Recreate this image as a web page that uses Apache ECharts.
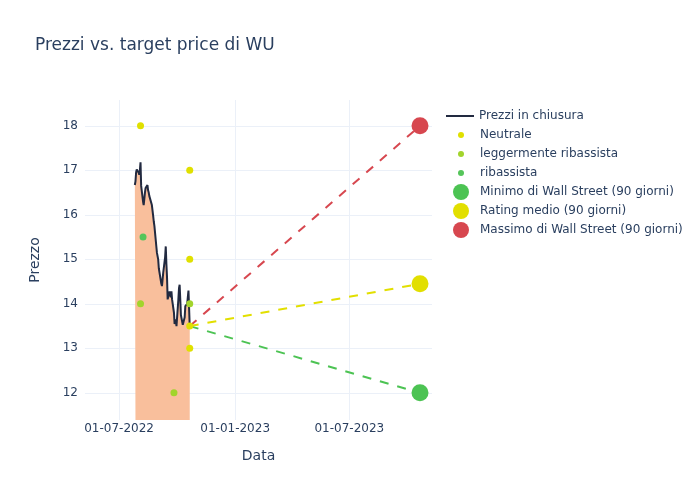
<!DOCTYPE html>
<html><head><meta charset="utf-8">
<script src="https://cdn.jsdelivr.net/npm/echarts@6/dist/echarts.min.js"></script>
<style>html,body{margin:0;padding:0;background:#fff}#c{width:700px;height:500px}</style>
</head><body><div id="c"></div>
<script>
const priceDates = [
'2022-07-26','2022-07-27','2022-07-28','2022-07-29',
'2022-08-01','2022-08-02','2022-08-03','2022-08-04','2022-08-05',
'2022-08-08','2022-08-09','2022-08-10','2022-08-11','2022-08-12',
'2022-08-15','2022-08-16','2022-08-17','2022-08-18','2022-08-19',
'2022-08-22','2022-08-23','2022-08-24','2022-08-25','2022-08-26',
'2022-08-29','2022-08-30','2022-08-31','2022-09-01','2022-09-02',
'2022-09-06','2022-09-07','2022-09-08','2022-09-09',
'2022-09-12','2022-09-13','2022-09-14','2022-09-15','2022-09-16',
'2022-09-19','2022-09-20','2022-09-21','2022-09-22','2022-09-23',
'2022-09-26','2022-09-27','2022-09-28','2022-09-29','2022-09-30',
'2022-10-03','2022-10-04','2022-10-05','2022-10-06','2022-10-07',
'2022-10-10','2022-10-11','2022-10-12','2022-10-13','2022-10-14',
'2022-10-17','2022-10-18','2022-10-19','2022-10-20','2022-10-21'];
const priceValues = [
16.67,16.75,16.95,17.02,
16.95,16.9,17.0,17.18,16.65,
16.3,16.22,16.35,16.5,16.6,
16.67,16.55,16.5,16.42,16.45,
16.22,16.1,15.98,15.85,15.75,
15.3,15.15,15.12,15.0,14.8,
14.45,14.4,14.55,14.7,
15.05,15.29,14.9,14.6,14.1,
14.28,14.3,14.15,14.28,14.1,
13.8,13.55,13.6,13.65,13.5,
14.1,14.35,14.43,14.1,13.75,
13.53,13.55,13.52,13.7,13.95,
14.0,14.15,14.3,14.28,13.5];

const neutraleDates = ['2022-08-04','2022-10-21','2022-10-21','2022-10-21','2022-10-21'];
const neutraleValues = [18, 17, 15, 13.5, 13];
const leggermenteDates = ['2022-08-04','2022-09-26','2022-10-21'];
const leggermenteValues = [14, 12, 14];
const ribassistaDates = ['2022-08-08'];
const ribassistaValues = [15.5];

const targetDate = '2023-10-21';
const targetMin = 12;
const targetMedio = 14.45;
const targetMax = 18;

const xTickLabels = ['01-07-2022','01-01-2023','01-07-2023'];
const yTickLabels = [12,13,14,15,16,17,18];

const FONT = 'DejaVu Sans';
const TXT = '#2a3f5f';
const GRID = '#ebf0f8';
const zip = (a, b) => a.map((d, i) => [d, b[i]]);
const lastDate = priceDates[priceDates.length - 1];
const lastPrice = priceValues[priceValues.length - 1];
const DAY = 86400000;

function fmt(v) {
  const d = new Date(v);
  const p = n => String(n).padStart(2, '0');
  return p(d.getDate()) + '-' + p(d.getMonth() + 1) + '-' + d.getFullYear();
}

const chart = echarts.init(document.getElementById('c'), null, {renderer: 'canvas'});
const C = {
  line: '#222a40', fill: '#f9bf9c',
  neutrale: '#e0e000', legg: '#a2d42c', rib: '#55c55a',
  bigG: '#4cc353', bigY: '#e2df00', bigR: '#d7474f'
};
const legendBase = {
  orient: 'vertical', padding: 0,
  itemWidth: 28, symbolKeepAspect: true,
  textStyle: {fontFamily: FONT, fontSize: 12, color: TXT}
};
chart.setOption({
  animation: false,
  backgroundColor: '#fff',
  title: {text: 'Prezzi vs. target price di WU', left: 30, top: 32,
    textStyle: {fontFamily: FONT, fontSize: 17, fontWeight: 'normal', color: TXT}},
  legend: [
    Object.assign({}, legendBase, {left: 446, top: 110, itemHeight: 2, itemGap: 5,
      data: [{name: 'Prezzi in chiusura', icon: 'rect'}]}),
    Object.assign({}, legendBase, {left: 458, top: 129, itemHeight: 6, itemGap: 7,
      data: [{name: 'Neutrale', icon: 'circle'}, {name: 'leggermente ribassista', icon: 'circle'}, {name: 'ribassista', icon: 'circle'}]}),
    Object.assign({}, legendBase, {left: 453, top: 184, itemHeight: 16, itemGap: 3,
      data: [{name: 'Minimo di Wall Street (90 giorni)', icon: 'circle'}, {name: 'Rating medio (90 giorni)', icon: 'circle'}, {name: 'Massimo di Wall Street (90 giorni)', icon: 'circle'}]})
  ],
  grid: {left: 85, right: 268, top: 100, bottom: 80},
  xAxis: {
    type: 'time', min: '2022-05-08', max: '2023-11-09',
    minInterval: 181 * DAY, maxInterval: 181 * DAY,
    name: 'Data', nameLocation: 'middle', nameGap: 29,
    nameTextStyle: {fontFamily: FONT, fontSize: 14, color: TXT},
    axisLine: {show: false}, axisTick: {show: false},
    axisLabel: {fontFamily: FONT, fontSize: 12, color: TXT, margin: 3,
      showMinLabel: false, showMaxLabel: false,
      formatter: v => { const s = fmt(v); return xTickLabels.indexOf(s) >= 0 ? s : ''; }},
    splitLine: {show: true, showMinLine: false, showMaxLine: false, lineStyle: {color: GRID, width: 1}}
  },
  yAxis: {
    type: 'value', min: 11.39, max: 18.58, splitNumber: 7,
    name: 'Prezzo', nameLocation: 'middle', nameGap: 43,
    nameTextStyle: {fontFamily: FONT, fontSize: 14, color: TXT},
    axisLine: {show: false}, axisTick: {show: false},
    axisLabel: {fontFamily: FONT, fontSize: 12, color: TXT, margin: 7,
      showMinLabel: false, showMaxLabel: false,
      formatter: v => yTickLabels.indexOf(v) >= 0 ? String(v) : ''},
    splitLine: {show: true, showMinLine: false, showMaxLine: false, lineStyle: {color: GRID, width: 1}}
  },
  series: [
    {name: 'Prezzi in chiusura', type: 'line', data: zip(priceDates, priceValues),
      symbol: 'none', lineStyle: {color: C.line, width: 2}, itemStyle: {color: C.line},
      areaStyle: {color: C.fill, opacity: 1, origin: 'start'}, z: 2},
    {name: 'Neutrale', type: 'scatter', data: zip(neutraleDates, neutraleValues),
      symbolSize: 7, itemStyle: {color: C.neutrale, opacity: 1}, z: 5},
    {name: 'leggermente ribassista', type: 'scatter', data: zip(leggermenteDates, leggermenteValues),
      symbolSize: 7, itemStyle: {color: C.legg, opacity: 1}, z: 5},
    {name: 'ribassista', type: 'scatter', data: zip(ribassistaDates, ribassistaValues),
      symbolSize: 7, itemStyle: {color: C.rib, opacity: 1}, z: 5},
    {name: '_minLine', type: 'line', data: [[lastDate, lastPrice], [targetDate, targetMin]],
      symbol: 'none', lineStyle: {color: C.bigG, width: 2, type: [9, 9]}, z: 3},
    {name: '_medLine', type: 'line', data: [[lastDate, lastPrice], [targetDate, targetMedio]],
      symbol: 'none', lineStyle: {color: C.bigY, width: 2, type: [9, 9]}, z: 3},
    {name: '_maxLine', type: 'line', data: [[lastDate, lastPrice], [targetDate, targetMax]],
      symbol: 'none', lineStyle: {color: C.bigR, width: 2, type: [9, 9]}, z: 3},
    {name: 'Minimo di Wall Street (90 giorni)', type: 'scatter', data: [[targetDate, targetMin]],
      symbolSize: 17, itemStyle: {color: C.bigG, opacity: 1}, z: 6},
    {name: 'Rating medio (90 giorni)', type: 'scatter', data: [[targetDate, targetMedio]],
      symbolSize: 17, itemStyle: {color: C.bigY, opacity: 1}, z: 6},
    {name: 'Massimo di Wall Street (90 giorni)', type: 'scatter', data: [[targetDate, targetMax]],
      symbolSize: 17, itemStyle: {color: C.bigR, opacity: 1}, z: 6}
  ]
});
</script></body></html>
